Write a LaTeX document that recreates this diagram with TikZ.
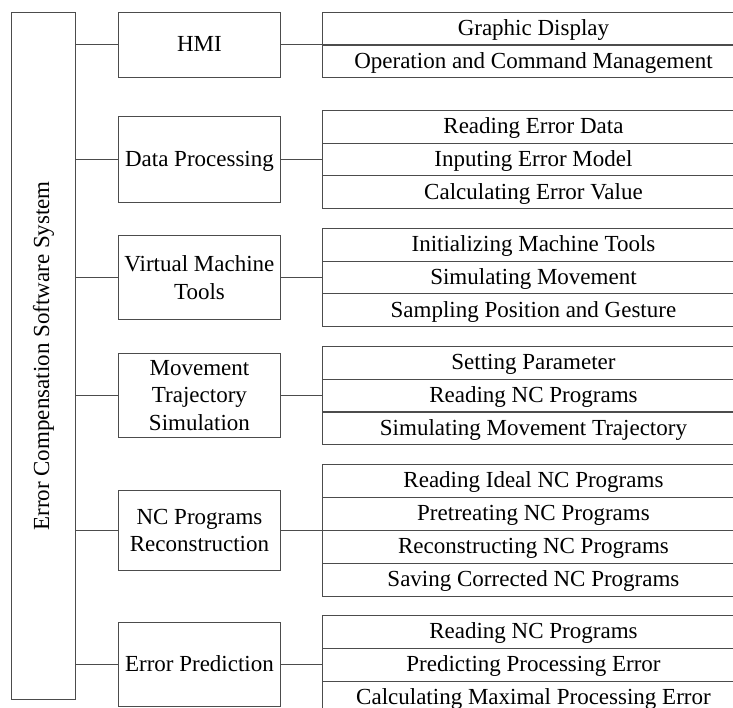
\documentclass[tikz,border=0pt]{standalone}
\usepackage{fontspec}
\setmainfont{Liberation Serif}
\begin{document}
\begin{tikzpicture}[x=1pt,y=-1pt,
  every node/.style={font=\fontsize{23}{27.5}\selectfont, inner sep=0pt, text=black},
  box/.style={draw=black!70, line width=0.9pt, align=center, anchor=north west, minimum width=162pt},
  one/.style={text height=17pt, text depth=3pt},
  rowbox/.style={draw=black!70, line width=0.9pt, anchor=north west, minimum width=422pt, minimum height=32.8pt, text height=17pt, text depth=3pt},
  link/.style={draw=black!70, line width=0.9pt}]
\useasboundingbox (0,0) rectangle (733,708);
\clip (0,0) rectangle (733,708);
% left box
\node[box, minimum width=64pt, minimum height=687pt] (sys) at (11,12) {};
\node[rotate=90] (systxt) at (sys.center) {Error Compensation Software System};
% middle boxes
\node[box, one, minimum height=65pt] (hmi) at (118,12) {HMI};
\node[box, one, minimum height=86pt] (dp) at (118,116) {Data Processing};
\node[box, minimum height=84pt] (vmt) at (118,235) {Virtual Machine\\Tools};
\node[box, minimum height=84pt] (mts) at (118,353) {Movement\\Trajectory\\Simulation};
\node[box, minimum height=80pt] (ncr) at (118,490) {NC Programs\\Reconstruction};
\node[box, one, minimum height=84pt] (ep) at (118,622) {Error Prediction};
% right rows
\node[rowbox] (a1) at (322,12) {Graphic Display};
\node[rowbox] (a2) at (322,44.5) {Operation and Command Management};
\node[rowbox] (b1) at (322,110) {Reading Error Data};
\node[rowbox] (b2) at (322,142.7) {Inputing Error Model};
\node[rowbox] (b3) at (322,175.4) {Calculating Error Value};
\node[rowbox] (c1) at (322,228) {Initializing Machine Tools};
\node[rowbox] (c2) at (322,260.7) {Simulating Movement};
\node[rowbox] (c3) at (322,293.4) {Sampling Position and Gesture};
\node[rowbox] (d1) at (322,346) {Setting Parameter};
\node[rowbox] (d2) at (322,378.7) {Reading NC Programs};
\node[rowbox] (d3) at (322,411.4) {Simulating Movement Trajectory};
\node[rowbox] (e1) at (322,464) {Reading Ideal NC Programs};
\node[rowbox] (e2) at (322,497) {Pretreating NC Programs};
\node[rowbox] (e3) at (322,530) {Reconstructing NC Programs};
\node[rowbox] (e4) at (322,563) {Saving Corrected NC Programs};
\node[rowbox] (f1) at (322,615) {Reading NC Programs};
\node[rowbox] (f2) at (322,648) {Predicting Processing Error};
\node[rowbox] (f3) at (322,681) {Calculating Maximal Processing Error};
% connectors
\foreach \m/\r in {hmi/a1, dp/b1, vmt/c1, mts/d1, ncr/e1, ep/f1}{
  \draw[link] (sys.east |- \m.west) -- (\m.west);
  \draw[link] (\m.east) -- (\r.west |- \m.east);
}
\end{tikzpicture}
\end{document}
